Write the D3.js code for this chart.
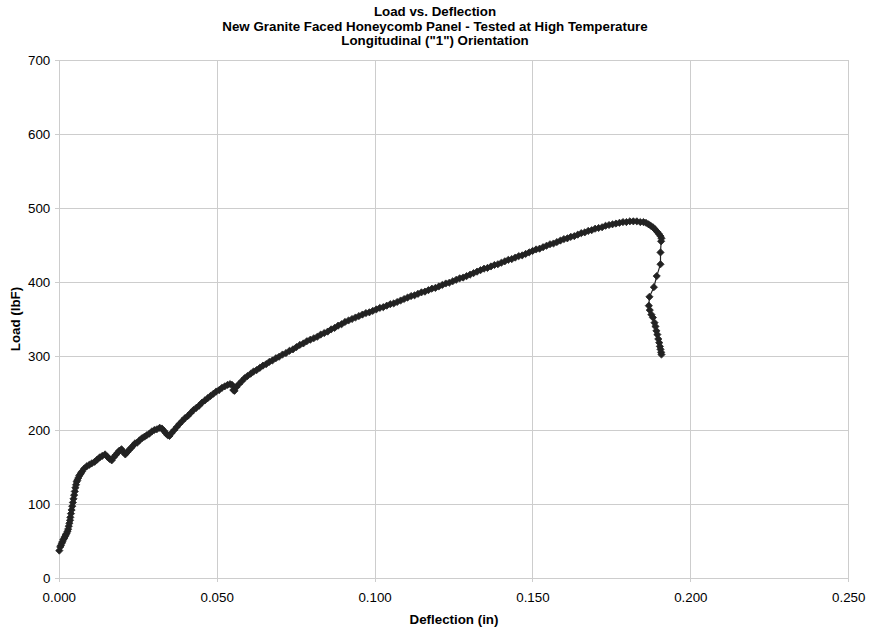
<!DOCTYPE html>
<html><head><meta charset="utf-8">
<script src="https://cdn.jsdelivr.net/npm/d3@7/dist/d3.min.js"></script>
<style>body{margin:0;background:#fff}svg{display:block}text{font-family:"Liberation Sans",Arial,sans-serif}</style>
</head><body>
<script>
const titleLines = ["Load vs. Deflection","New Granite Faced Honeycomb Panel - Tested at High Temperature","Longitudinal (\"1\") Orientation"];
const xLabel = "Deflection (in)";
const yLabel = "Load (lbF)";
const xTicks = [0,0.05,0.10,0.15,0.20,0.25];
const yTicks = [0,100,200,300,400,500,600,700];
const deflection = [
0.0000,0.0003,0.0005,0.0008,0.0010,0.0013,0.0016,0.0018,0.0020,0.0023,0.0026,0.0028,0.0030,0.0032,0.0034,0.0035,0.0037,0.0039,0.0041,0.0043,
0.0045,0.0047,0.0049,0.0051,0.0053,0.0055,0.0057,0.0060,0.0063,0.0066,0.0069,0.0072,0.0079,0.0087,0.0095,
0.0103,0.0112,0.0120,0.0128,0.0136,0.0145,0.0152,0.0159,0.0166,0.0172,0.0178,0.0184,0.0190,0.0197,0.0203,0.0209,0.0215,0.0221,0.0228,0.0234,
0.0240,0.0247,0.0254,0.0262,0.0270,0.0277,0.0285,0.0293,0.0301,0.0309,0.0318,0.0325,0.0331,0.0337,0.0343,0.0349,0.0356,0.0364,0.0372,0.0380,
0.0389,0.0398,0.0407,0.0416,0.0425,0.0434,0.0443,0.0452,0.0461,0.0470,0.0479,0.0488,0.0497,0.0506,0.0515,0.0524,0.0533,0.0541,0.0547,0.0551,
0.0555,0.0561,0.0569,0.0578,0.0587,0.0596,0.0606,0.0615,0.0625,0.0635,0.0645,0.0655,0.0665,0.0675,0.0686,0.0696,0.0707,0.0718,0.0729,0.0740,
0.0751,0.0762,0.0773,0.0784,0.0795,0.0806,0.0817,0.0828,0.0839,0.0850,0.0861,0.0872,0.0883,0.0894,0.0905,0.0916,0.0927,0.0938,0.0949,0.0960,
0.0971,0.0982,0.0993,0.1004,0.1015,0.1026,0.1037,0.1048,0.1059,0.1070,0.1081,0.1092,0.1103,0.1114,0.1125,0.1136,0.1147,0.1158,0.1169,0.1180,
0.1191,0.1202,0.1213,0.1224,0.1235,0.1246,0.1257,0.1268,0.1279,0.1290,0.1301,0.1312,0.1323,0.1334,0.1345,0.1356,0.1367,0.1378,0.1389,0.1400,
0.1411,0.1422,0.1433,0.1444,0.1455,0.1466,0.1477,0.1488,0.1499,0.1510,0.1521,0.1532,0.1543,0.1554,0.1565,0.1576,0.1587,0.1598,0.1609,0.1620,
0.1631,0.1642,0.1653,0.1664,0.1675,0.1686,0.1697,0.1708,0.1719,0.1730,0.1741,0.1752,0.1763,0.1774,0.1785,0.1796,0.1807,0.1818,0.1829,0.1840,
0.1850,0.1858,0.1866,0.1873,0.1880,0.1887,0.1893,0.1899,0.1904,0.1907,
0.1906,0.1904,0.1904,0.1892,0.1883,0.1869,0.1867,0.1870,0.1875,0.1880,0.1885,0.1888,0.1891,0.1894,0.1897,0.1900,0.1902,0.1904,0.1906,0.1907];
const load = [
37,42,44,47,49,52,54,56,58,60,63,66,70,74,78,82,87,92,97,102,
107,112,117,122,126,130,132,135,138,140,142,144,148,151,153,
155,157,160,163,165,167,164,161,159,163,166,169,172,174,170,167,170,173,176,179,
182,183,186,189,191,193,195,198,200,201,203,202,199,196,193,192,196,200,204,208,
212,216,219,223,227,230,233,237,240,243,246,249,252,254,257,259,261,262,261,254,
253,258,262,266,270,273,276,279,281,284,287,289,292,294,297,299,302,304,307,309,
312,315,317,320,322,324,326,329,331,333,336,338,341,343,346,348,350,352,354,356,
358,359,361,363,365,366,368,370,371,373,375,377,379,381,382,384,386,387,389,391,
392,394,396,398,399,401,403,405,406,408,410,412,414,416,418,419,421,423,424,426,
428,430,431,433,435,436,438,440,442,444,445,447,449,451,452,454,456,458,459,461,
462,464,466,467,469,470,472,473,474,476,477,478,479,480,481,481,482,482,482,481,
481,480,478,476,474,471,468,465,462,459,
455,440,424,408,393,380,368,362,356,352,345,340,334,329,323,318,313,309,305,302];

const W=870,H=630, L=59.3, R=848.7, T=60, B=578;
const svg=d3.select("body").append("svg").attr("width",W).attr("height",H);
svg.append("rect").attr("width",W).attr("height",H).attr("fill","#fff");
const x=d3.scaleLinear().domain([0,0.25]).range([L,R]);
const y=d3.scaleLinear().domain([0,700]).range([B,T]);
const gridC="#cdcdcd";

// grid
svg.append("g").selectAll("line").data(yTicks).join("line")
  .attr("x1",L-4).attr("x2",R).attr("y1",d=>y(d)).attr("y2",d=>y(d))
  .attr("stroke",gridC).attr("stroke-width",1).attr("shape-rendering","crispEdges");
svg.append("g").selectAll("line").data(xTicks).join("line")
  .attr("x1",d=>x(d)).attr("x2",d=>x(d)).attr("y1",T).attr("y2",B+4)
  .attr("stroke",gridC).attr("stroke-width",1).attr("shape-rendering","crispEdges");

// tick labels
svg.append("g").selectAll("text").data(yTicks).join("text")
  .attr("x",L-9).attr("y",d=>y(d)+4.5).attr("text-anchor","end")
  .attr("font-size","13.33px").attr("fill","#000").text(d=>d);
const fx=d3.format(".3f");
svg.append("g").selectAll("text").data(xTicks).join("text")
  .attr("x",d=>x(d)).attr("y",602).attr("text-anchor","middle")
  .attr("font-size","13.33px").attr("fill","#000").text(d=>fx(d));

// titles
const ty=[16,30.5,45];
svg.append("g").selectAll("text").data(titleLines).join("text")
  .attr("x",435).attr("y",(d,i)=>ty[i]).attr("text-anchor","middle")
  .attr("font-size","13.33px").attr("font-weight","bold").attr("fill","#000").text(d=>d);
svg.append("text").attr("x",(L+R)/2).attr("y",624).attr("text-anchor","middle")
  .attr("font-size","13.33px").attr("font-weight","bold").text(xLabel);
svg.append("text").attr("transform",`translate(20,${(T+B)/2}) rotate(-90)`).attr("text-anchor","middle")
  .attr("font-size","13.33px").attr("font-weight","bold").text(yLabel);

// data
const pts=deflection.map((d,i)=>({d,l:load[i]}));
svg.append("path").datum(pts)
  .attr("d",d3.line().x(p=>x(p.d)).y(p=>y(p.l)))
  .attr("fill","none").attr("stroke","#222").attr("stroke-width",1.2);
const diamond="M0,-3.6L3.6,0L0,3.6L-3.6,0Z";
svg.append("g").selectAll("path").data(pts).join("path")
  .attr("transform",p=>`translate(${x(p.d)},${y(p.l)})`)
  .attr("d",diamond).attr("fill","#222").attr("stroke","#222").attr("stroke-width",0.8);
</script>
</body></html>
